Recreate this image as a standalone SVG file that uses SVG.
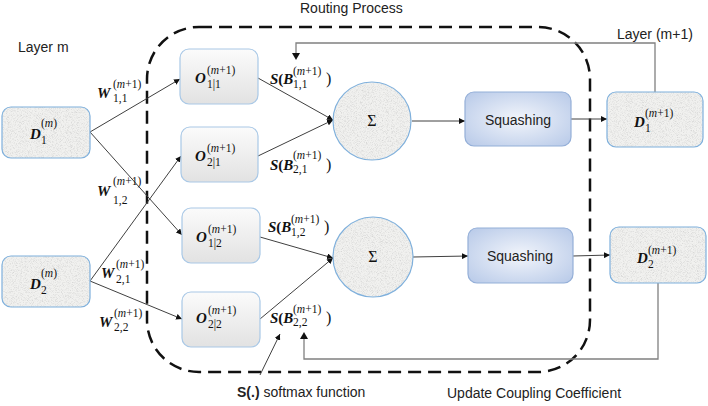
<svg xmlns="http://www.w3.org/2000/svg" width="708" height="406" viewBox="0 0 708 406">
<defs>
  <style>
    .lbl{font-family:"Liberation Sans","Open Sans",sans-serif;font-size:14px;fill:#222}
    .m{font-family:"Liberation Serif","DejaVu Serif",serif;font-size:15px;font-style:italic;font-weight:bold;fill:#111}
    .bu{font-style:normal}
    .sp{font-family:"Liberation Serif","DejaVu Serif",serif;font-size:11.5px;fill:#111}
    .it{font-style:italic}
    .rp{font-family:"Liberation Serif","DejaVu Serif",serif;font-size:16px;fill:#111}
    .tex{fill:#f1f1ef;filter:url(#tex)}
    .bd{fill:none;stroke:#7fb0dc;stroke-width:1.2}
    .og{fill:url(#og);stroke:#a9c8e6;stroke-width:1.2}
    .sq{fill:url(#sq);stroke:#94afd8;stroke-width:1.2}
    .conn{stroke:#404040;stroke-width:1;fill:none;marker-end:url(#ah)}
    .fb{stroke:#808080;stroke-width:1.3;fill:none}
  </style>
  <marker id="ah" viewBox="0 0 10 10" refX="10" refY="5" markerWidth="6" markerHeight="6" markerUnits="userSpaceOnUse" orient="auto">
    <path d="M0,0 L10,5 L0,10 z" fill="#111"/>
  </marker>
  <filter id="tex" x="0" y="0" width="100%" height="100%">
    <feTurbulence type="fractalNoise" baseFrequency="1.2" numOctaves="2" seed="7" result="n"/>
    <feColorMatrix in="n" type="matrix" values="0 0 0 0 0.55  0 0 0 0 0.55  0 0 0 0 0.55  1.6 0 0 0 -0.72" result="s"/>
    <feComposite in="s" in2="SourceAlpha" operator="in" result="c"/>
    <feMerge><feMergeNode in="SourceGraphic"/><feMergeNode in="c"/></feMerge>
  </filter>
  <linearGradient id="og" x1="0" y1="0" x2="0" y2="1">
    <stop offset="0" stop-color="#fbfbfb"/>
    <stop offset="1" stop-color="#e2e2e2"/>
  </linearGradient>
  <radialGradient id="sq" cx="0.5" cy="0.5" r="0.7">
    <stop offset="0" stop-color="#f2f5fb"/>
    <stop offset="1" stop-color="#b7c9e8"/>
  </radialGradient>
</defs>
<rect width="708" height="406" fill="#ffffff"/>

<!-- routing boundary -->
<rect x="147" y="27" width="443" height="345" rx="52" ry="52" fill="none" stroke="#111" stroke-width="2.5" stroke-dasharray="13 7"/>

<text class="lbl" x="18" y="52">Layer m</text>
<text class="lbl" x="300" y="13">Routing Process</text>
<text class="lbl" x="617" y="39">Layer (m+1)</text>
<text class="lbl" x="237" y="397"><tspan font-weight="bold">S(.)</tspan> softmax function</text>
<text class="lbl" x="447" y="398" font-size="15">Update Coupling Coefficient</text>

<g id="connectors">
  <line class="conn" x1="90" y1="132" x2="180" y2="79"/>
  <line class="conn" x1="90" y1="132" x2="182" y2="235"/>
  <line class="conn" x1="90" y1="281" x2="181" y2="156"/>
  <line class="conn" x1="90" y1="281" x2="182" y2="319"/>
  <line class="conn" x1="258" y1="78" x2="333" y2="120"/>
  <line class="conn" x1="258" y1="156" x2="333" y2="120"/>
  <line class="conn" x1="260" y1="237" x2="333" y2="258"/>
  <line class="conn" x1="260" y1="319" x2="333" y2="258"/>
  <line class="conn" x1="412" y1="121" x2="465" y2="121"/>
  <line class="conn" x1="413" y1="257" x2="468" y2="256"/>
  <line class="conn" x1="571" y1="119" x2="607" y2="119"/>
  <line class="conn" x1="573" y1="256" x2="610" y2="255"/>
  <polyline class="fb" points="655,92 655,43 296,43 296,55"/>
  <path d="M292,53 L296,60 L300,53 z" fill="#111"/>
  <polyline class="fb" points="658,283 658,359 304,359 304,337"/>
  <path d="M300,339 L304,332 L308,339 z" fill="#111"/>
  <line class="conn" x1="260" y1="375" x2="280" y2="334"/>
</g>

<!-- weight labels -->
<g id="w-labels">
  <text class="m" x="97" y="98" font-size="16">W</text>
  <text class="sp" x="113" y="88">(<tspan class="it">m</tspan>+1)</text>
  <text class="sp" x="113" y="102">1,1</text>

  <text class="m" x="97" y="196" font-size="16">W</text>
  <text class="sp" x="113" y="185">(<tspan class="it">m</tspan>+1)</text>
  <text class="sp" x="113" y="204">1,2</text>

  <text class="m" x="101" y="278" font-size="16">W</text>
  <text class="sp" x="116" y="268">(<tspan class="it">m</tspan>+1)</text>
  <text class="sp" x="116" y="283">2,1</text>

  <text class="m" x="99" y="327" font-size="16">W</text>
  <text class="sp" x="114" y="317">(<tspan class="it">m</tspan>+1)</text>
  <text class="sp" x="114" y="331">2,2</text>
</g>

<!-- softmax labels -->
<g id="s-labels">
  <text class="m" x="270" y="84">S<tspan class="bu">(</tspan>B</text>
  <text class="sp" x="293" y="75">(<tspan class="it">m</tspan>+1)</text>
  <text class="sp" x="293" y="88">1,1</text>
  <text class="rp" x="326" y="84">)</text>

  <text class="m" x="270" y="170">S<tspan class="bu">(</tspan>B</text>
  <text class="sp" x="293" y="159">(<tspan class="it">m</tspan>+1)</text>
  <text class="sp" x="293" y="173">2,1</text>
  <text class="rp" x="326" y="170">)</text>

  <text class="m" x="268" y="232">S<tspan class="bu">(</tspan>B</text>
  <text class="sp" x="291" y="223">(<tspan class="it">m</tspan>+1)</text>
  <text class="sp" x="291" y="236">1,2</text>
  <text class="rp" x="324" y="232">)</text>

  <text class="m" x="270" y="323">S<tspan class="bu">(</tspan>B</text>
  <text class="sp" x="293" y="313">(<tspan class="it">m</tspan>+1)</text>
  <text class="sp" x="293" y="326">2,2</text>
  <text class="rp" x="326" y="323">)</text>
</g>

<g id="D1m">
  <rect class="tex" x="2" y="107" width="88" height="51" rx="9"/>
  <rect class="bd" x="2" y="107" width="88" height="51" rx="9"/>
  <text class="m" x="30" y="139">D</text>
  <text class="sp" x="41" y="127">(<tspan class="it">m</tspan>)</text>
  <text class="sp" x="41" y="144">1</text>
</g>
<g id="D2m">
  <rect class="tex" x="2" y="256" width="88" height="51" rx="9"/>
  <rect class="bd" x="2" y="256" width="88" height="51" rx="9"/>
  <text class="m" x="30" y="289">D</text>
  <text class="sp" x="41" y="277">(<tspan class="it">m</tspan>)</text>
  <text class="sp" x="41" y="294">2</text>
</g>

<g id="O11">
  <rect class="og" x="180" y="49" width="78" height="55" rx="9"/>
  <text class="m" x="195" y="83">O</text>
  <text class="sp" x="207" y="74">(<tspan class="it">m</tspan>+1)</text>
  <text class="sp" x="207" y="88">1|1</text>
</g>
<g id="O21">
  <rect class="og" x="181" y="127" width="77" height="55" rx="9"/>
  <text class="m" x="195" y="161">O</text>
  <text class="sp" x="207" y="152">(<tspan class="it">m</tspan>+1)</text>
  <text class="sp" x="207" y="166">2|1</text>
</g>
<g id="O12">
  <rect class="og" x="182" y="208" width="78" height="55" rx="9"/>
  <text class="m" x="196" y="242">O</text>
  <text class="sp" x="208" y="233">(<tspan class="it">m</tspan>+1)</text>
  <text class="sp" x="208" y="247">1|2</text>
</g>
<g id="O22">
  <rect class="og" x="182" y="292" width="78" height="55" rx="9"/>
  <text class="m" x="196" y="323">O</text>
  <text class="sp" x="208" y="314">(<tspan class="it">m</tspan>+1)</text>
  <text class="sp" x="208" y="328">2|2</text>
</g>

<g id="Sum1">
  <circle class="tex" cx="372" cy="121" r="39"/>
  <circle class="bd" cx="372" cy="121" r="39"/>
  <text class="rp" x="372" y="126" text-anchor="middle">Σ</text>
</g>
<g id="Sum2">
  <circle class="tex" cx="373" cy="257" r="40"/>
  <circle class="bd" cx="373" cy="257" r="40"/>
  <text class="rp" x="373" y="262" text-anchor="middle">Σ</text>
</g>

<g id="Squash1">
  <rect class="sq" x="465" y="92" width="106" height="54" rx="9"/>
  <text class="lbl" x="518" y="125" font-size="15" text-anchor="middle">Squashing</text>
</g>
<g id="Squash2">
  <rect class="sq" x="468" y="228" width="105" height="55" rx="9"/>
  <text class="lbl" x="520" y="261" font-size="15" text-anchor="middle">Squashing</text>
</g>

<g id="D1m1">
  <rect class="tex" x="607" y="92" width="96" height="55" rx="9"/>
  <rect class="bd" x="607" y="92" width="96" height="55" rx="9"/>
  <text class="m" x="634" y="127">D</text>
  <text class="sp" x="645" y="117">(<tspan class="it">m</tspan>+1)</text>
  <text class="sp" x="645" y="132">1</text>
</g>
<g id="D2m1">
  <rect class="tex" x="610" y="227" width="96" height="56" rx="9"/>
  <rect class="bd" x="610" y="227" width="96" height="56" rx="9"/>
  <text class="m" x="637" y="263">D</text>
  <text class="sp" x="648" y="254">(<tspan class="it">m</tspan>+1)</text>
  <text class="sp" x="648" y="268">2</text>
</g>
</svg>
